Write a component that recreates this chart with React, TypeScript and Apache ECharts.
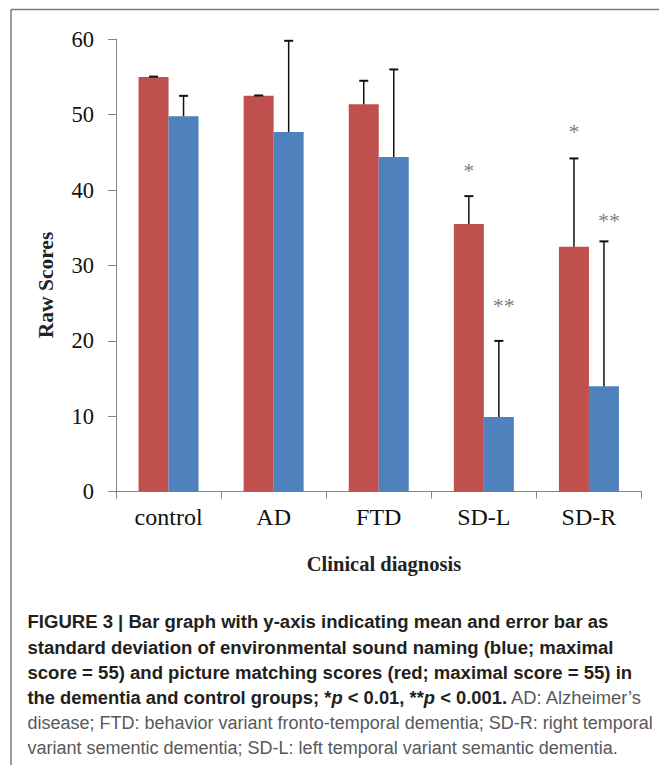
import React, { useEffect, useRef } from 'react';
import * as echarts from 'echarts';

const categories = ['control', 'AD', 'FTD', 'SD-L', 'SD-R'];
// red: picture matching scores (mean and mean + SD)
const pictureMatching = [55.0, 52.5, 51.4, 35.5, 32.5];
const pictureMatchingErrTop = [55.05, 52.55, 54.5, 39.2, 44.2];
// blue: environmental sound naming (mean and mean + SD)
const soundNaming = [49.8, 47.7, 44.4, 9.9, 14.0];
const soundNamingErrTop = [52.5, 59.8, 56.0, 20.0, 33.2];
const yMin = 0;
const yMax = 60;
const yInterval = 10;
// significance markers
const sigCategory = [3, 3, 4, 4];
const sigSide = [-1, 1, -1, 1];
const sigY = [43.1, 25.2, 48.3, 36.5];
const sigLabel = ['*', '**', '*', '**'];

const captionLines = [
  'FIGURE 3 | Bar graph with y-axis indicating mean and error bar as',
  'standard deviation of environmental sound naming (blue; maximal',
  'score = 55) and picture matching scores (red; maximal score = 55) in',
];
const captionLine4Bold = 'the dementia and control groups; *';
const captionLine4Rest = ['p', ' < 0.01, **', 'p', ' < 0.001.'];
const captionLine4Regular = ' AD: Alzheimer\u2019s';
const captionRegularLines = [
  'disease; FTD: behavior variant fronto-temporal dementia; SD-R: right temporal',
  'variant sementic dementia; SD-L: left temporal variant semantic dementia.',
];

const RED = '#C0504D';
const BLUE = '#4F81BD';
const BAR_W = 30;
const SERIF = '"Liberation Serif", "Times New Roman", serif';
const SANS = '"Liberation Sans", Arial, Helvetica, sans-serif';

function errorBarSeries(means: number[], tops: number[], side: number) {
  return {
    type: 'custom',
    z: 5,
    data: means.map((m, i) => [i, m, tops[i]]),
    renderItem: (params: any, api: any) => {
      const i = api.value(0);
      const base = api.coord([i, api.value(1)]);
      const top = api.coord([i, api.value(2)]);
      const x = base[0] + (side * BAR_W) / 2;
      return {
        type: 'group',
        children: [
          {
            type: 'line',
            shape: { x1: x, y1: base[1], x2: x, y2: top[1] },
            style: { stroke: '#111', lineWidth: 1.5 },
          },
          {
            type: 'line',
            shape: { x1: x - 4.5, y1: top[1], x2: x + 4.5, y2: top[1] },
            style: { stroke: '#111', lineWidth: 2 },
          },
        ],
      };
    },
  };
}

export default function App() {
  const ref = useRef<HTMLDivElement>(null);
  useEffect(() => {
    if (!ref.current) return;
    const chart = echarts.init(ref.current, null, { renderer: 'svg' });
    const boldFont = `bold 18px ${SANS}`;
    const lineY = [621.7, 647.3, 672.7, 697.7, 723.3, 748.3];
    const capX = 27.5;
    const graphic: any[] = [
      { type: 'line', shape: { x1: 11, y1: 9.5, x2: 659, y2: 9.5 }, style: { stroke: '#7a7a7a', lineWidth: 1.5 } },
      { type: 'line', shape: { x1: 11, y1: 9.5, x2: 11, y2: 765 }, style: { stroke: '#7a7a7a', lineWidth: 1.5 } },
      {
        type: 'text',
        x: 45.5,
        y: 285,
        rotation: Math.PI / 2,
        style: {
          text: 'Raw Scores',
          font: `bold 21.5px ${SERIF}`,
          fill: '#222',
          align: 'center',
          verticalAlign: 'middle',
        },
      },
      {
        type: 'text',
        x: 384,
        y: 564,
        style: {
          text: 'Clinical diagnosis',
          font: `bold 20.5px ${SERIF}`,
          fill: '#222',
          align: 'center',
          verticalAlign: 'middle',
        },
      },
    ];
    captionLines.forEach((t, k) => {
      graphic.push({
        type: 'text',
        x: capX,
        y: lineY[k],
        scaleX: 1.03,
        style: { text: t, font: boldFont, fill: '#231f20', verticalAlign: 'middle' },
      });
    });
    graphic.push({
      type: 'text',
      x: capX,
      y: lineY[3],
      scaleX: 1.02,
      style: {
        text:
          `{b|${captionLine4Bold}}{i|${captionLine4Rest[0]}}{b|${captionLine4Rest[1]}}{i|${captionLine4Rest[2]}}{b|${captionLine4Rest[3]}}{r|${captionLine4Regular}}`,
        verticalAlign: 'middle',
        rich: {
          b: { font: boldFont, fill: '#231f20' },
          i: { font: `italic bold 18px ${SANS}`, fill: '#231f20' },
          r: { font: `18px ${SANS}`, fill: '#58595b' },
        },
      },
    });
    captionRegularLines.forEach((t, k) => {
      graphic.push({
        type: 'text',
        x: capX,
        y: lineY[4 + k],
        style: { text: t, font: `18px ${SANS}`, fill: '#58595b', verticalAlign: 'middle' },
      });
    });

    chart.setOption({
      animation: false,
      backgroundColor: '#fff',
      grid: { left: 116, right: 17.5, top: 39.3, bottom: 273.3, containLabel: false },
      xAxis: {
        type: 'category',
        data: categories,
        boundaryGap: true,
        axisLine: { show: true, lineStyle: { color: '#868686', width: 1 } },
        axisTick: { show: true, length: 7, lineStyle: { color: '#868686' } },
        axisLabel: { fontFamily: SERIF, fontSize: 24, color: '#111', margin: 13 },
      },
      yAxis: {
        type: 'value',
        min: yMin,
        max: yMax,
        interval: yInterval,
        splitLine: { show: false },
        axisLine: { show: true, lineStyle: { color: '#868686', width: 1 } },
        axisTick: { show: true, length: 8, lineStyle: { color: '#868686' } },
        axisLabel: { fontFamily: SERIF, fontSize: 22.5, color: '#111', margin: 22 },
      },
      series: [
        {
          type: 'bar',
          name: 'Picture matching',
          data: pictureMatching,
          barWidth: BAR_W,
          barGap: '0%',
          itemStyle: { color: RED },
        },
        {
          type: 'bar',
          name: 'Sound naming',
          data: soundNaming,
          barWidth: BAR_W,
          barGap: '0%',
          itemStyle: { color: BLUE },
        },
        errorBarSeries(pictureMatching, pictureMatchingErrTop, -1),
        errorBarSeries(soundNaming, soundNamingErrTop, 1),
        {
          type: 'custom',
          z: 6,
          data: sigY.map((v, k) => [sigCategory[k], v, sigSide[k]]),
          renderItem: (params: any, api: any) => {
            const p = api.coord([api.value(0), api.value(1)]);
            const side = api.value(2);
            const lbl = sigLabel[params.dataIndex];
            const dx = lbl.length > 1 ? 5 : 0;
            return {
              type: 'text',
              x: p[0] + (side * BAR_W) / 2 + dx,
              y: p[1] + 4,
              style: {
                text: lbl,
                font: `22px ${SERIF}`,
                fill: '#7f7f7f',
                align: 'center',
                verticalAlign: 'middle',
              },
            };
          },
        },
      ],
      graphic,
    });
    return () => chart.dispose();
  }, []);
  return (
    <div
      ref={ref}
      style={{ position: 'absolute', left: 0, top: 0, width: 659, height: 765, background: '#fff' }}
    />
  );
}
